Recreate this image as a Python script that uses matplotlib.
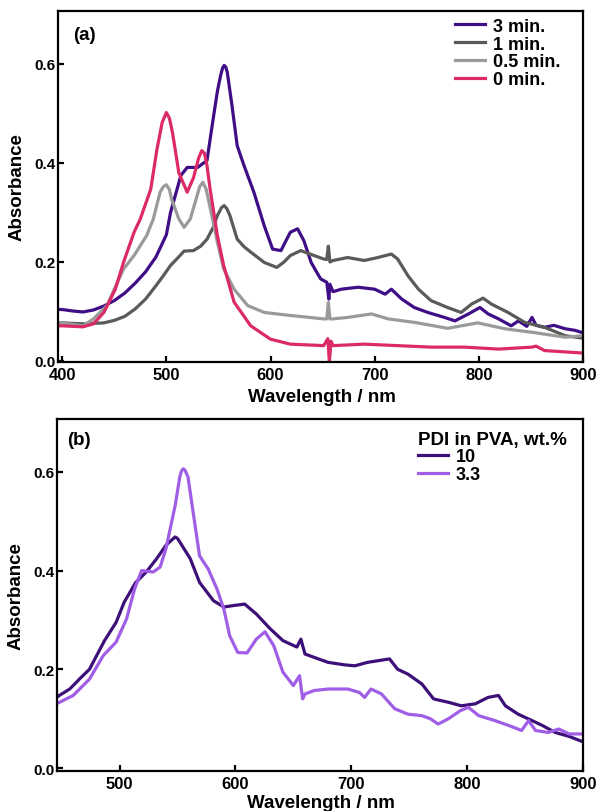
import matplotlib
matplotlib.use('Agg')
import matplotlib.pyplot as plt

plt.rcParams['font.family'] = ['Liberation Sans', 'DejaVu Sans']
plt.rcParams['font.weight'] = 'bold'

# ---- panel (a): irradiation time series ----
a_labels = ['3 min.', '1 min.', '0.5 min.', '0 min.']
a_colors = ['#3f0d86', '#5a5a5a', '#9a9a9a', '#dc2a66']

wl_3min = [396, 400, 410, 420, 430, 440, 450, 460, 470, 480, 490, 500, 504, 510, 514, 520,
           530, 539, 545, 549, 552, 554, 555.5, 557, 558.5, 563, 568, 574, 584, 594, 602,
           610, 619, 626, 632, 639, 648, 654, 656, 657, 660, 668, 684, 700, 710, 716, 726,
           738, 751, 767, 777, 790, 801, 809, 819, 831, 838, 846, 851, 855, 863, 872, 883,
           892, 900]
ab_3min = [0.104, 0.104, 0.101, 0.099, 0.103, 0.111, 0.122, 0.137, 0.157, 0.180, 0.210,
           0.255, 0.300, 0.345, 0.375, 0.391, 0.391, 0.405, 0.490, 0.545, 0.576, 0.592,
           0.597, 0.594, 0.583, 0.516, 0.435, 0.398, 0.341, 0.273, 0.226, 0.223, 0.260,
           0.267, 0.243, 0.199, 0.166, 0.159, 0.125, 0.155, 0.140, 0.145, 0.149, 0.145,
           0.135, 0.145, 0.125, 0.108, 0.098, 0.088, 0.081, 0.095, 0.108, 0.095, 0.085,
           0.071, 0.081, 0.070, 0.088, 0.072, 0.068, 0.072, 0.065, 0.062, 0.057]

wl_1min = [396, 400, 420, 440, 450, 460, 470, 480, 490, 497, 504, 510, 517, 526, 533, 539,
           545, 549, 553, 555.5, 558, 561, 568, 575, 581, 594, 606, 613, 619, 629, 638, 651,
           654, 655.5, 657, 660, 674, 690, 703, 716, 722, 732, 742, 754, 770, 783, 793, 804,
           812, 828, 844, 863, 883, 900]
ab_1min = [0.077, 0.077, 0.075, 0.077, 0.082, 0.090, 0.105, 0.125, 0.152, 0.172, 0.193,
           0.206, 0.222, 0.223, 0.232, 0.246, 0.270, 0.294, 0.310, 0.314, 0.308, 0.294,
           0.246, 0.230, 0.220, 0.199, 0.189, 0.200, 0.213, 0.223, 0.216, 0.206, 0.205,
           0.232, 0.200, 0.203, 0.209, 0.203, 0.209, 0.216, 0.206, 0.172, 0.145, 0.122,
           0.108, 0.098, 0.115, 0.127, 0.115, 0.098, 0.078, 0.068, 0.051, 0.046]

wl_05min = [396, 400, 420, 430, 443, 450, 459, 469, 481, 487.5, 494, 497, 500, 503, 505,
            512, 517, 523, 529.5, 532, 535, 538, 541, 549, 555, 565, 578, 594, 619, 651,
            654, 655.5, 657, 660, 674, 697, 713, 738, 770, 799, 825, 851, 883, 900]
ab_05min = [0.077, 0.077, 0.071, 0.085, 0.112, 0.145, 0.186, 0.213, 0.253, 0.287, 0.341,
            0.352, 0.356, 0.346, 0.327, 0.287, 0.270, 0.287, 0.334, 0.352, 0.361, 0.348,
            0.320, 0.240, 0.186, 0.145, 0.112, 0.098, 0.092, 0.085, 0.085, 0.118, 0.085,
            0.085, 0.088, 0.095, 0.085, 0.078, 0.066, 0.077, 0.065, 0.058, 0.048, 0.051]

wl_0min = [396, 400, 420, 430, 440, 451, 459, 469, 475, 485, 491, 496, 500, 503, 506, 512,
           520, 526, 531, 534, 536.5, 539, 542, 549, 555, 565, 581, 600, 619, 651, 655,
           656.5, 658, 660, 690, 722, 754, 786, 819, 851, 855, 863, 900]
ab_0min = [0.071, 0.071, 0.069, 0.075, 0.098, 0.145, 0.200, 0.260, 0.287, 0.347, 0.428,
           0.482, 0.502, 0.490, 0.460, 0.380, 0.341, 0.370, 0.410, 0.425, 0.420, 0.395,
           0.347, 0.253, 0.193, 0.119, 0.071, 0.044, 0.034, 0.031, 0.045, -0.002, 0.040,
           0.031, 0.034, 0.031, 0.028, 0.028, 0.024, 0.028, 0.030, 0.021, 0.016]

# ---- panel (b): PDI loading in PVA ----
b_title = 'PDI in PVA, wt.%'
b_labels = ['10', '3.3']
b_colors = ['#3d0f78', '#a05de6']

wl_10 = [446, 448, 457, 467, 474, 487, 497, 504, 514, 523, 532, 540, 546, 548, 550, 553,
         561, 569, 581, 590, 598, 608, 618, 630, 641, 653, 656.5, 660, 668, 680, 694, 703,
         714, 733, 740, 749, 761, 771, 784, 795, 807, 818, 827, 833, 844, 856, 865, 876,
         888, 900]
ab_10 = [0.143, 0.147, 0.160, 0.184, 0.200, 0.258, 0.295, 0.336, 0.376, 0.397, 0.424,
         0.451, 0.464, 0.468, 0.465, 0.454, 0.424, 0.376, 0.339, 0.326, 0.329, 0.332,
         0.312, 0.282, 0.258, 0.245, 0.261, 0.231, 0.224, 0.214, 0.209, 0.207, 0.214,
         0.221, 0.200, 0.190, 0.170, 0.140, 0.133, 0.126, 0.130, 0.143, 0.147, 0.126,
         0.109, 0.096, 0.086, 0.072, 0.064, 0.053]

wl_33 = [446, 448, 460, 474, 486, 497, 506, 513, 519, 529, 535, 540, 548, 552, 553.5, 555,
         556.5, 559, 563.5, 569, 576.5, 584, 590, 595, 602, 610, 618, 625.5, 633, 641, 650,
         655.3, 658, 660, 668, 680, 697, 707, 711.5, 717, 726, 737.5, 749, 761, 768, 775,
         784, 794, 801, 810, 824, 836, 847, 853, 859, 870, 879, 888, 900]
ab_33 = [0.131, 0.133, 0.147, 0.180, 0.228, 0.255, 0.302, 0.363, 0.400, 0.397, 0.407,
         0.444, 0.532, 0.590, 0.602, 0.606, 0.603, 0.590, 0.518, 0.430, 0.403, 0.363,
         0.322, 0.268, 0.234, 0.233, 0.261, 0.276, 0.248, 0.194, 0.167, 0.187, 0.140,
         0.150, 0.157, 0.160, 0.160, 0.153, 0.143, 0.160, 0.150, 0.120, 0.109, 0.106,
         0.100, 0.089, 0.100, 0.116, 0.123, 0.106, 0.096, 0.086, 0.076, 0.096, 0.076,
         0.072, 0.079, 0.069, 0.069]

yticks = [0.0, 0.2, 0.4, 0.6]

fig = plt.figure(figsize=(5.97, 8.12), dpi=100)
ax_a = fig.add_axes([0.0972, 0.5530, 0.8794, 0.4322])
ax_b = fig.add_axes([0.0955, 0.0493, 0.8811, 0.4335])


def style_axes(ax, xticks):
    for s in ax.spines.values():
        s.set_linewidth(1.6)
    ax.tick_params(direction='in', length=4, width=1.6, top=False, right=False)
    ax.tick_params(axis='x', labelsize=12, pad=3.5)
    ax.tick_params(axis='y', labelsize=11, pad=1.5)
    ax.set_xticks(xticks)
    ax.set_yticks(yticks)
    ax.set_yticklabels(['%.1f' % v for v in yticks])
    ax.set_xlabel('Wavelength / nm', fontsize=13.5, fontweight='bold')
    ax.set_ylabel('Absorbance', fontsize=13.5, fontweight='bold')
    ax.yaxis.set_label_coords(-0.062, 0.5)


# panel (a)
series_a = [(wl_3min, ab_3min), (wl_1min, ab_1min), (wl_05min, ab_05min), (wl_0min, ab_0min)]
for (x, y), lab, c in zip(series_a, a_labels, a_colors):
    ax_a.plot(x, y, color=c, lw=2.3, label=lab)
ax_a.set_xlim(396, 900)
ax_a.set_ylim(-0.002, 0.707)
style_axes(ax_a, [400, 500, 600, 700, 800, 900])
ax_a.xaxis.set_label_coords(0.502, -0.073)
ax_a.text(0.029, 0.934, '(a)', transform=ax_a.transAxes, fontsize=13.5,
          fontweight='bold', va='center')
ax_a.legend(loc='upper left', bbox_to_anchor=(0.756, 0.981), frameon=False,
            fontsize=13, borderpad=0, borderaxespad=0, labelspacing=0.05,
            handlelength=1.65, handletextpad=0.45)

# panel (b)
series_b = [(wl_10, ab_10), (wl_33, ab_33)]
for (x, y), lab, c in zip(series_b, b_labels, b_colors):
    ax_b.plot(x, y, color=c, lw=2.3, label=lab)
ax_b.set_xlim(446, 900)
ax_b.set_ylim(-0.006, 0.707)
style_axes(ax_b, [500, 600, 700, 800, 900])
ax_b.xaxis.set_label_coords(0.502, -0.066)
ax_b.text(0.019, 0.943, '(b)', transform=ax_b.transAxes, fontsize=13.5,
          fontweight='bold', va='center')
leg = ax_b.legend(loc='upper left', bbox_to_anchor=(0.686, 0.967), frameon=False,
                  fontsize=13, title=b_title,
                  title_fontproperties={'size': 13.5, 'weight': 'bold'},
                  alignment='left', borderpad=0, borderaxespad=0, labelspacing=0.05,
                  handlelength=1.65, handletextpad=0.45)

fig.savefig('out.png', dpi=100)
